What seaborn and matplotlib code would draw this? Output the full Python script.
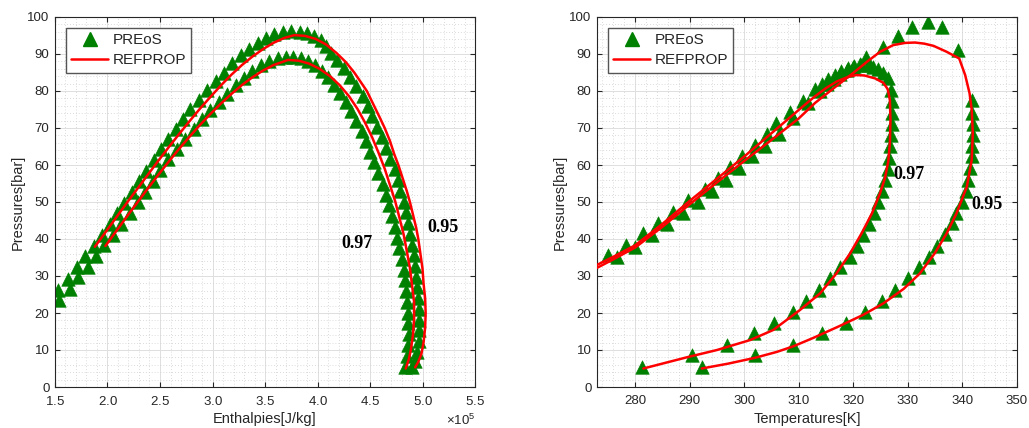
import numpy as np
import matplotlib
matplotlib.use("Agg")
import matplotlib.pyplot as plt
from matplotlib.lines import Line2D
from matplotlib.ticker import MultipleLocator, ScalarFormatter
import seaborn as sns

# ---------------- data: left panel (enthalpy in 1e5 J/kg, pressure in bar) ----------------
pr95_h = [1.53, 1.62, 1.71, 1.79, 1.87, 1.95, 2.02, 2.09, 2.16, 2.23, 2.30, 2.37, 2.44, 2.51,
          2.58, 2.65, 2.72, 2.79, 2.87, 2.95, 3.03, 3.11, 3.19, 3.27, 3.35, 3.43, 3.51, 3.59,
          3.67, 3.75, 3.83, 3.90, 3.97, 4.03, 4.08, 4.13, 4.19, 4.25, 4.31, 4.37, 4.43, 4.48,
          4.52, 4.565, 4.61, 4.65, 4.695, 4.735, 4.765, 4.79, 4.82, 4.84, 4.86, 4.88, 4.90,
          4.915, 4.93, 4.94, 4.95, 4.96, 4.97, 4.97, 4.97, 4.965, 4.95, 4.93, 4.90]
pr95_p = [26.2, 29.3, 32.4, 35.3, 38.2, 41.1, 44.0, 46.9, 49.8, 52.7, 55.6, 58.5, 61.4, 64.2,
          67.0, 69.8, 72.5, 75.1, 77.7, 80.2, 82.6, 84.9, 87.6, 89.6, 91.4, 93.0, 94.3, 95.3,
          95.9, 96.1, 96.0, 95.6, 94.8, 93.7, 92.2, 90.4, 88.4, 86.2, 83.8, 81.3, 78.7, 76.0,
          73.2, 70.4, 67.5, 64.6, 61.7, 58.8, 55.9, 53.0, 50.1, 47.2, 44.3, 41.4, 38.5,
          35.6, 32.7, 29.8, 26.9, 24.0, 21.1, 18.2, 15.3, 12.4, 9.5, 7.0, 5.3]

pr97_h = [1.54, 1.64, 1.72, 1.81, 1.89, 1.97, 2.05, 2.13, 2.21, 2.29, 2.36, 2.43, 2.50, 2.58,
          2.66, 2.74, 2.82, 2.90, 2.98, 3.06, 3.14, 3.22, 3.30, 3.38, 3.46, 3.54, 3.62, 3.70,
          3.77, 3.84, 3.91, 3.98, 4.04, 4.10, 4.16, 4.21, 4.27, 4.32, 4.37, 4.42, 4.46, 4.50,
          4.54, 4.58, 4.62, 4.65, 4.68, 4.71, 4.74, 4.76, 4.78, 4.80, 4.82, 4.83, 4.84, 4.85,
          4.86, 4.86, 4.87, 4.86, 4.85, 4.83]
pr97_p = [23.5, 26.6, 29.6, 32.5, 35.4, 38.3, 41.2, 44.1, 47.0, 49.9, 52.8, 55.7, 58.6, 61.5,
          64.3, 67.0, 69.7, 72.3, 74.8, 77.1, 79.3, 81.5, 83.6, 85.4, 86.9, 88.0, 88.8, 89.2,
          89.2, 88.8, 88.0, 86.9, 85.4, 83.7, 81.7, 79.5, 77.1, 74.6, 72.0, 69.3, 66.5, 63.6,
          60.7, 57.8, 54.9, 52.0, 49.1, 46.2, 43.3, 40.4, 37.5, 34.6, 31.7, 28.8, 25.9, 23.0,
          20.1, 17.2, 14.3, 11.4, 8.5, 5.3]

rp95_h = [1.88, 1.98, 2.08, 2.18, 2.28, 2.38, 2.48, 2.58, 2.68, 2.78, 2.88, 2.98, 3.08, 3.18,
          3.28, 3.38, 3.48, 3.58, 3.68, 3.78, 3.88, 3.98, 4.08, 4.18, 4.27, 4.35, 4.41, 4.47,
          4.53, 4.59, 4.64, 4.69, 4.73, 4.77, 4.81, 4.85, 4.88, 4.91, 4.94, 4.96, 4.98, 5.00,
          5.01, 5.025, 5.03, 5.025, 5.01, 4.99, 4.96, 4.93]
rp95_p = [37.9, 41.8, 45.7, 49.6, 53.4, 57.2, 61.0, 64.7, 68.3, 71.8, 75.2, 78.4, 81.5, 84.4,
          87.0, 89.3, 91.3, 93.0, 94.3, 95.1, 94.9, 94.1, 92.6, 90.3, 87.8, 85.0, 82.5, 80.0,
          76.5, 73.0, 70.0, 66.5, 63.0, 60.0, 56.5, 53.0, 50.0, 46.5, 43.0, 40.0, 36.0, 32.0,
          28.0, 24.0, 20.0, 16.0, 12.0, 9.0, 6.8, 5.3]

rp97_h = [1.98, 2.08, 2.18, 2.28, 2.38, 2.48, 2.58, 2.68, 2.78, 2.88, 2.98, 3.08, 3.18, 3.28,
          3.38, 3.48, 3.58, 3.68, 3.72, 3.82, 3.92, 4.02, 4.12, 4.21, 4.30, 4.38, 4.45, 4.52,
          4.58, 4.64, 4.69, 4.74, 4.78, 4.82, 4.85, 4.88, 4.90, 4.92, 4.92, 4.91, 4.89, 4.87,
          4.84]
rp97_p = [38.1, 42.0, 45.9, 49.7, 53.5, 57.2, 60.8, 64.3, 67.6, 70.8, 73.8, 76.6, 79.2, 81.6,
          83.7, 85.5, 87.0, 88.0, 88.4, 88.2, 87.4, 86.0, 84.0, 81.6, 78.6, 75.2, 71.6, 67.5,
          63.4, 59.0, 54.6, 50.2, 45.8, 41.3, 36.8, 32.2, 27.6, 23.0, 18.5, 14.2, 10.2, 7.5,
          5.0]

# ---------------- data: right panel (temperature in K, pressure in bar) ----------------
tp97_t = [275.1, 278.4, 281.5, 284.2, 287.0, 289.7, 292.8, 295.2, 297.4, 299.5, 302.0, 304.2,
          305.9, 308.3, 310.8, 313.0, 314.2, 315.4, 316.6, 317.8, 319.0, 320.2, 321.4, 322.6,
          323.6, 324.6, 325.5, 326.3, 326.9, 327.0, 327.0, 327.0, 326.9, 326.8, 326.6, 326.3,
          325.8, 325.2, 324.5, 323.7, 322.8, 321.8, 320.6, 319.3, 317.6, 315.7, 313.7, 311.4,
          308.9, 305.5, 301.7, 296.8, 290.4, 281.2]
tp97_p = [35.7, 38.4, 41.5, 44.4, 47.4, 50.5, 53.4, 56.4, 59.5, 62.5, 65.4, 68.3,
          71.3, 74.4, 77.4, 80.6, 82.0, 83.3, 84.4, 85.4, 86.2, 86.8, 87.1, 87.0,
          86.6, 85.9, 84.8, 83.4, 80.3, 77.2, 74.1, 71.0, 68.0, 65.0, 62.0, 58.9,
          56.0, 53.1, 50.1, 47.1, 44.0, 41.1, 38.1, 35.2, 32.3, 29.4, 26.2, 23.3,
          20.4, 17.4, 14.5, 11.4, 8.6, 5.5]

tp95_t = [276.6, 279.9, 283.0, 285.8, 288.8, 291.6, 294.0, 296.7, 299.0, 301.4, 303.8, 306.3,
          309.0, 311.7, 313.9, 315.2, 316.4, 317.6, 318.8, 320.0, 321.2, 322.4, 325.4, 328.1,
          330.8, 333.6, 336.2, 339.1, 341.7, 341.7, 341.9, 341.9, 341.8, 341.7, 341.4, 341.1,
          340.7, 339.9, 338.9, 338.0, 336.8, 335.3, 333.8, 332.1, 330.1, 327.6, 325.2, 322.1,
          318.7, 314.2, 309.0, 302.0, 292.2]
tp95_p = [35.2, 37.9, 41.0, 44.1, 47.1, 50.1, 53.1, 55.9, 59.1, 62.3, 65.1, 68.5,
          72.6, 76.8, 80.1, 81.8, 83.2, 84.5, 85.6, 86.6, 87.4, 89.3, 92.0, 94.9,
          97.4, 98.6, 97.2, 91.1, 77.6, 74.0, 71.1, 68.1, 65.0, 62.3, 59.1, 55.9,
          53.1, 50.1, 47.1, 44.2, 41.3, 38.1, 35.2, 32.3, 29.4, 26.2, 23.3, 20.4,
          17.4, 14.5, 11.4, 8.6, 5.5]

rt97_t = [273.0, 276.0, 280.0, 285.0, 290.0, 295.0, 300.0, 305.0, 310.0, 313.0, 315.0, 317.0,
          319.0, 320.5, 322.0, 324.0, 325.5, 326.3, 326.7, 326.8, 326.7, 326.4, 325.8, 324.9,
          323.4, 321.5, 319.4, 316.9, 313.9, 310.2, 305.3, 301.1, 295.0, 289.4, 281.5]
rt97_p = [33.0, 35.2, 38.3, 44.1, 50.3, 56.3, 62.3, 68.6, 74.9, 78.6, 80.8, 82.6,
          83.8, 84.3, 84.2, 83.4, 82.2, 80.5, 77.5, 72.0, 66.0, 61.0, 56.5, 52.4,
          46.9, 41.5, 36.1, 30.7, 25.3, 20.8, 15.4, 12.7, 10.0, 8.0, 5.0]

rt95_t = [273.0, 276.0, 280.0, 285.0, 290.0, 295.0, 300.0, 305.0, 310.0, 313.0, 316.0, 318.0,
          320.0, 322.5, 324.9, 327.3, 329.5, 331.3, 333.0, 334.7, 337.1, 339.4, 340.5, 341.3,
          341.7, 341.9, 341.7, 340.8, 338.9, 337.1, 334.9, 332.2, 329.2, 325.5, 321.8, 317.5,
          312.7, 309.0, 306.0, 302.0, 297.0, 292.2]
rt95_p = [32.2, 34.5, 37.7, 43.3, 49.4, 55.3, 61.1, 66.8, 72.6, 76.8, 80.3, 82.6,
          84.9, 87.9, 90.6, 92.4, 93.0, 93.1, 92.8, 92.2, 90.6, 88.8, 84.3, 79.4,
          74.9, 68.6, 61.4, 54.1, 46.9, 41.5, 36.1, 30.7, 26.5, 22.6, 19.5, 16.5,
          13.3, 11.0, 9.5, 7.9, 6.3, 5.0]

legend_labels = ["PREoS", "REFPROP"]
left_xticks = [1.5, 2, 2.5, 3, 3.5, 4, 4.5, 5, 5.5]
right_xticks = [280, 290, 300, 310, 320, 330, 340, 350]
yticks = [0, 10, 20, 30, 40, 50, 60, 70, 80, 90, 100]

# ---------------- style ----------------
sns.set_theme(style="ticks")
plt.rcParams["font.family"] = ["Liberation Sans", "DejaVu Sans"]
plt.rcParams["mathtext.fontset"] = "custom"
plt.rcParams["mathtext.rm"] = "Liberation Sans"

GREEN = "#008000"
RED = "#ff0000"
AX_COL = "#262626"

fig = plt.figure(figsize=(10.29, 4.28), dpi=100)
ax1 = fig.add_axes([55 / 1029, 41 / 428, 420 / 1029, 370 / 428])
ax2 = fig.add_axes([597 / 1029, 41 / 428, 420 / 1029, 370 / 428])


def style_axes(ax, xminor):
    ax.set_ylim(0, 100)
    ax.set_yticks(yticks)
    ax.yaxis.set_minor_locator(MultipleLocator(2))
    ax.xaxis.set_minor_locator(MultipleLocator(xminor))
    ax.grid(True, which="major", color="#dedede", lw=0.7, ls="-", zorder=0)
    ax.grid(True, which="minor", color="#cfcfcf", lw=0.6, ls=(0, (1, 2.5)), zorder=0)
    ax.set_axisbelow(True)
    ax.tick_params(which="major", direction="in", top=True, right=True, length=3.6,
                   width=0.8, color=AX_COL, labelsize=9.5, labelcolor=AX_COL)
    ax.tick_params(axis="x", which="major", pad=6)
    ax.tick_params(axis="y", which="major", pad=4)
    ax.tick_params(which="minor", length=0)
    for s in ax.spines.values():
        s.set_color(AX_COL)
        s.set_linewidth(0.8)
    ax.set_ylabel("Pressures[bar]", fontsize=10.5, color=AX_COL, labelpad=2)


def add_legend(ax):
    handles = [Line2D([], [], marker="^", color=GREEN, ls="none", markersize=10),
               Line2D([], [], color=RED, lw=1.8)]
    leg = ax.legend(handles, legend_labels, loc="upper left", bbox_to_anchor=(0.026, 0.971),
                    borderaxespad=0, fontsize=11, frameon=True, fancybox=False,
                    framealpha=1, edgecolor="#555555", handlelength=2.4,
                    handletextpad=0.3, borderpad=0.35, labelspacing=0.4)
    leg.get_frame().set_linewidth(1.0)


# ---------------- left panel ----------------
sns.scatterplot(x=np.array(pr95_h) * 1e5, y=pr95_p, marker="^", s=95, color=GREEN,
                edgecolor=GREEN, linewidth=0.4, ax=ax1, zorder=2)
sns.scatterplot(x=np.array(pr97_h) * 1e5, y=pr97_p, marker="^", s=95, color=GREEN,
                edgecolor=GREEN, linewidth=0.4, ax=ax1, zorder=2)
sns.lineplot(x=np.array(rp95_h) * 1e5, y=rp95_p, sort=False, estimator=None, color=RED,
             lw=1.8, ax=ax1, zorder=3)
sns.lineplot(x=np.array(rp97_h) * 1e5, y=rp97_p, sort=False, estimator=None, color=RED,
             lw=1.8, ax=ax1, zorder=3)
ax1.set_xlim(1.5e5, 5.5e5)
ax1.set_xticks(np.array(left_xticks) * 1e5)
fmt = ScalarFormatter(useMathText=True)
fmt.set_powerlimits((-3, 4))
ax1.xaxis.set_major_formatter(fmt)
style_axes(ax1, 0.1e5)
ax1.xaxis.get_offset_text().set_fontsize(9.5)
ax1.xaxis.get_offset_text().set_color(AX_COL)
ax1.set_xlabel("Enthalpies[J/kg]", fontsize=10.5, color=AX_COL, labelpad=3)
ax1.text(4.23e5, 38.9, "0.97", fontsize=13, fontweight="bold", family="Liberation Serif",
         ha="left", va="center", color="black")
ax1.text(5.05e5, 43.0, "0.95", fontsize=13, fontweight="bold", family="Liberation Serif",
         ha="left", va="center", color="black")
add_legend(ax1)

# ---------------- right panel ----------------
sns.scatterplot(x=tp97_t, y=tp97_p, marker="^", s=95, color=GREEN, edgecolor=GREEN,
                linewidth=0.4, ax=ax2, zorder=2)
sns.scatterplot(x=tp95_t, y=tp95_p, marker="^", s=95, color=GREEN, edgecolor=GREEN,
                linewidth=0.4, ax=ax2, zorder=2)
sns.lineplot(x=rt97_t, y=rt97_p, sort=False, estimator=None, color=RED, lw=1.8, ax=ax2,
             zorder=3)
sns.lineplot(x=rt95_t, y=rt95_p, sort=False, estimator=None, color=RED, lw=1.8, ax=ax2,
             zorder=3)
ax2.set_xlim(273, 350)
ax2.set_xticks(right_xticks)
style_axes(ax2, 2)
ax2.set_xlabel("Temperatures[K]", fontsize=10.5, color=AX_COL, labelpad=3)
ax2.text(327.3, 57.3, "0.97", fontsize=13, fontweight="bold", family="Liberation Serif",
         ha="left", va="center", color="black")
ax2.text(341.6, 49.2, "0.95", fontsize=13, fontweight="bold", family="Liberation Serif",
         ha="left", va="center", color="black")
add_legend(ax2)

fig.savefig("out.png", dpi=100)
